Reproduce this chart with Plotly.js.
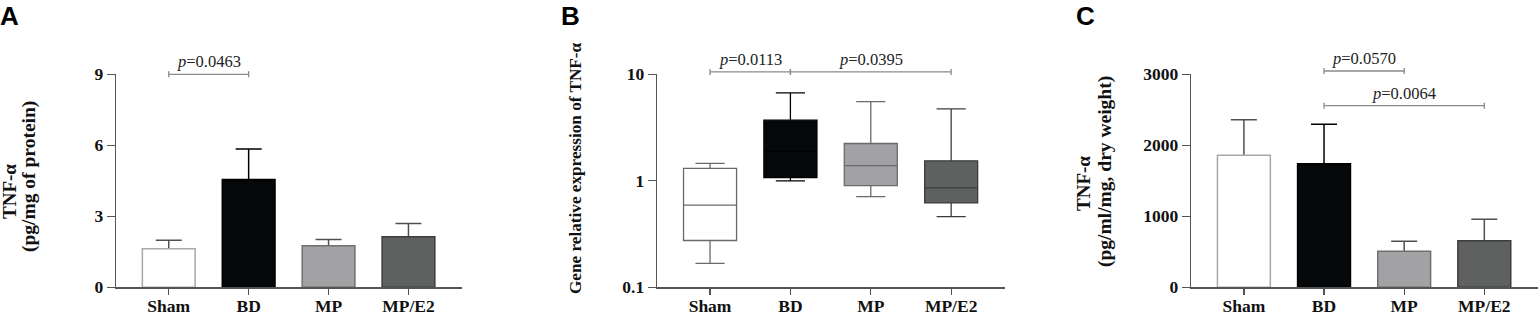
<!DOCTYPE html>
<html><head><meta charset="utf-8">
<script src="https://cdn.plot.ly/plotly-3.0.1.min.js"></script>
<style>html,body{margin:0;padding:0;background:#fff}#chart{width:1538px;height:315px}</style>
</head><body><div id="chart"></div>
<script>
// ---- data ----
const groups = ['Sham', 'BD', 'MP', 'MP/E2'];
// Panel A: TNF-α (pg/mg of protein), mean + SEM
const proteinMean = [1.63, 4.55, 1.76, 2.14];
const proteinSEM = [0.36, 1.29, 0.26, 0.56];
// Panel B: gene relative expression of TNF-α (box plot, log axis)
const geneMin = [0.168, 1.0, 0.71, 0.46];
const geneQ1 = [0.275, 1.07, 0.90, 0.62];
const geneMedian = [0.59, 1.9, 1.39, 0.86];
const geneQ3 = [1.31, 3.71, 2.24, 1.54];
const geneMax = [1.46, 6.7, 5.55, 4.74];
// Panel C: TNF-α (pg/ml/mg, dry weight), mean + SEM
const dryMean = [1859, 1741, 507, 656];
const drySEM = [501, 554, 141, 302];
// tick labels
const ticksA = [0, 3, 6, 9];
const ticksB = [0.1, 1, 10];
const ticksBText = ['0.1', '1', '10'];
const ticksC = [0, 1000, 2000, 3000];
// significance comparisons
const compA = [{from: 'Sham', to: 'BD', p: '0.0463'}];
const compB = [{from: 'Sham', to: 'BD', p: '0.0113'}, {from: 'BD', to: 'MP/E2', p: '0.0395'}];
const compC = [{from: 'BD', to: 'MP', p: '0.0570'}, {from: 'BD', to: 'MP/E2', p: '0.0064'}];

// ---- styles ----
const fills = ['#ffffff', '#050709', '#a2a2a4', '#5f6060'];
const edges = ['#a8a8a8', '#000000', '#707070', '#3c3c3c'];
const boxEdges = ['#6a6a6a', '#000000', '#6a6a6a', '#3c3c3c'];
const errColors = ['#505050', '#000000', '#505050', '#505050'];
const serif = 'Liberation Serif, Times New Roman, serif';
const W = 1538, H = 315;
const yDom = [1 - 287.3 / H, 1 - 74.3 / H];

const traces = [];
function barPair(i, xa, ya, means, sems) {
  // error bar (drawn first, its lower half hidden by the opaque bar above it)
  traces.push({
    type: 'bar', x: [groups[i]], y: [means[i]], xaxis: xa, yaxis: ya, width: 0.66,
    marker: {color: 'rgba(0,0,0,0)', line: {width: 0}},
    error_y: {type: 'data', symmetric: true, array: [sems[i]],
      color: errColors[i], thickness: 1.5, width: 13},
    hoverinfo: 'skip'
  });
  traces.push({
    type: 'bar', x: [groups[i]], y: [means[i]], xaxis: xa, yaxis: ya, width: 0.66,
    marker: {color: fills[i], line: {color: edges[i], width: 1.5}},
    hoverinfo: 'skip'
  });
}
groups.forEach((g, i) => {
  barPair(i, 'x', 'y', proteinMean, proteinSEM);
  traces.push({
    type: 'box', x: [g], xaxis: 'x2', yaxis: 'y2',
    lowerfence: [geneMin[i]], q1: [geneQ1[i]], median: [geneMedian[i]],
    q3: [geneQ3[i]], upperfence: [geneMax[i]],
    width: 0.66, whiskerwidth: 0.55, fillcolor: fills[i],
    line: {color: boxEdges[i], width: 1.3},
    boxpoints: false, hoverinfo: 'skip'
  });
  barPair(i, 'x3', 'y3', dryMean, drySEM);
});

const tickFont = {family: serif, size: 17.5, color: '#111', weight: 'bold'};
function xAxis(d0, d1, anchor) {
  return {
    domain: [d0 / W, d1 / W], anchor: anchor, type: 'category', categoryorder: 'array',
    categoryarray: groups, range: [-0.66, 3.67], showline: true, linecolor: '#555',
    linewidth: 1.3, ticks: 'outside', ticklen: 6, tickwidth: 1.3, tickcolor: '#555',
    ticklabelstandoff: -4,
    showgrid: false, zeroline: false, tickfont: tickFont, fixedrange: true
  };
}
function yAxis(anchor, extra) {
  return Object.assign({
    domain: yDom, anchor: anchor, showline: true, linecolor: '#555', linewidth: 1.3,
    ticks: 'outside', ticklen: 8, tickwidth: 1.3, tickcolor: '#555', showgrid: false,
    zeroline: false, tickfont: tickFont, fixedrange: true
  }, extra);
}

const shapes = [];
const annotations = [];
function addBrackets(comps, xa, ya, levels) {
  comps.forEach((c, k) => {
    const lv = levels[k];
    const line = {color: '#8a8a8a', width: 1.3};
    shapes.push({type: 'line', xref: xa, yref: ya + ' domain', x0: c.from, x1: c.to, y0: lv, y1: lv, line: line});
    [c.from, c.to].forEach(e => shapes.push({
      type: 'line', xref: xa, yref: ya + ' domain', x0: e, x1: e, ysizemode: 'pixel',
      yanchor: lv, y0: -3, y1: 3, line: line
    }));
    const mid = (groups.indexOf(c.from) + groups.indexOf(c.to)) / 2;
    annotations.push({
      xref: xa, yref: ya + ' domain', x: mid, y: lv, yanchor: 'bottom', yshift: 1,
      showarrow: false, text: '<i>p</i>=' + c.p,
      font: {family: serif, size: 16.5, color: '#222'}
    });
  });
}
addBrackets(compA, 'x', 'y', [1.0]);
addBrackets(compB, 'x2', 'y2', [1.011, 1.011]);
addBrackets(compC, 'x3', 'y3', [1.0155, 0.8526]);

function label(txt, px, py, size, fam) {
  annotations.push({xref: 'paper', yref: 'paper', x: px / W, y: 1 - py / H, xanchor: 'left',
    yanchor: 'top', showarrow: false, text: txt, borderpad: 0,
    font: {family: fam, size: size, color: '#000', weight: 'bold'}});
}
label('A', -1, 0, 26, 'Liberation Sans, Arial, sans-serif');
label('B', 560, 0, 26, 'Liberation Sans, Arial, sans-serif');
label('C', 1075, 0, 26, 'Liberation Sans, Arial, sans-serif');

function ytitle(txt, px, py, size) {
  annotations.push({xref: 'paper', yref: 'paper', x: px / W, y: 1 - py / H, xanchor: 'center',
    yanchor: 'middle', textangle: -90, showarrow: false, text: txt,
    font: {family: serif, size: size, color: '#111', weight: 'bold'}});
}
ytitle('TNF-α', 9, 192, 19);
ytitle('(pg/mg of protein)', 29, 177, 19.5);
ytitle('Gene relative expression of TNF-α', 575, 168, 17.2);
ytitle('TNF-α', 1083, 184, 19);
ytitle('(pg/ml/mg, dry weight)', 1105, 172, 19.5);

const layout = {
  width: W, height: H, margin: {l: 0, r: 0, t: 0, b: 0},
  paper_bgcolor: '#fff', plot_bgcolor: '#fff', showlegend: false,
  barmode: 'overlay', boxmode: 'overlay',
  xaxis: xAxis(116, 462, 'y'),
  yaxis: yAxis('x', {range: [0, 9], tickvals: ticksA}),
  xaxis2: xAxis(657, 1005, 'y2'),
  yaxis2: yAxis('x2', {type: 'log', range: [-1, 1], tickvals: ticksB, ticktext: ticksBText}),
  xaxis3: xAxis(1191, 1538, 'y3'),
  yaxis3: yAxis('x3', {range: [0, 3000], tickvals: ticksC}),
  shapes: shapes, annotations: annotations
};
Plotly.newPlot('chart', traces, layout, {displayModeBar: false, staticPlot: true});
</script>
</body></html>
